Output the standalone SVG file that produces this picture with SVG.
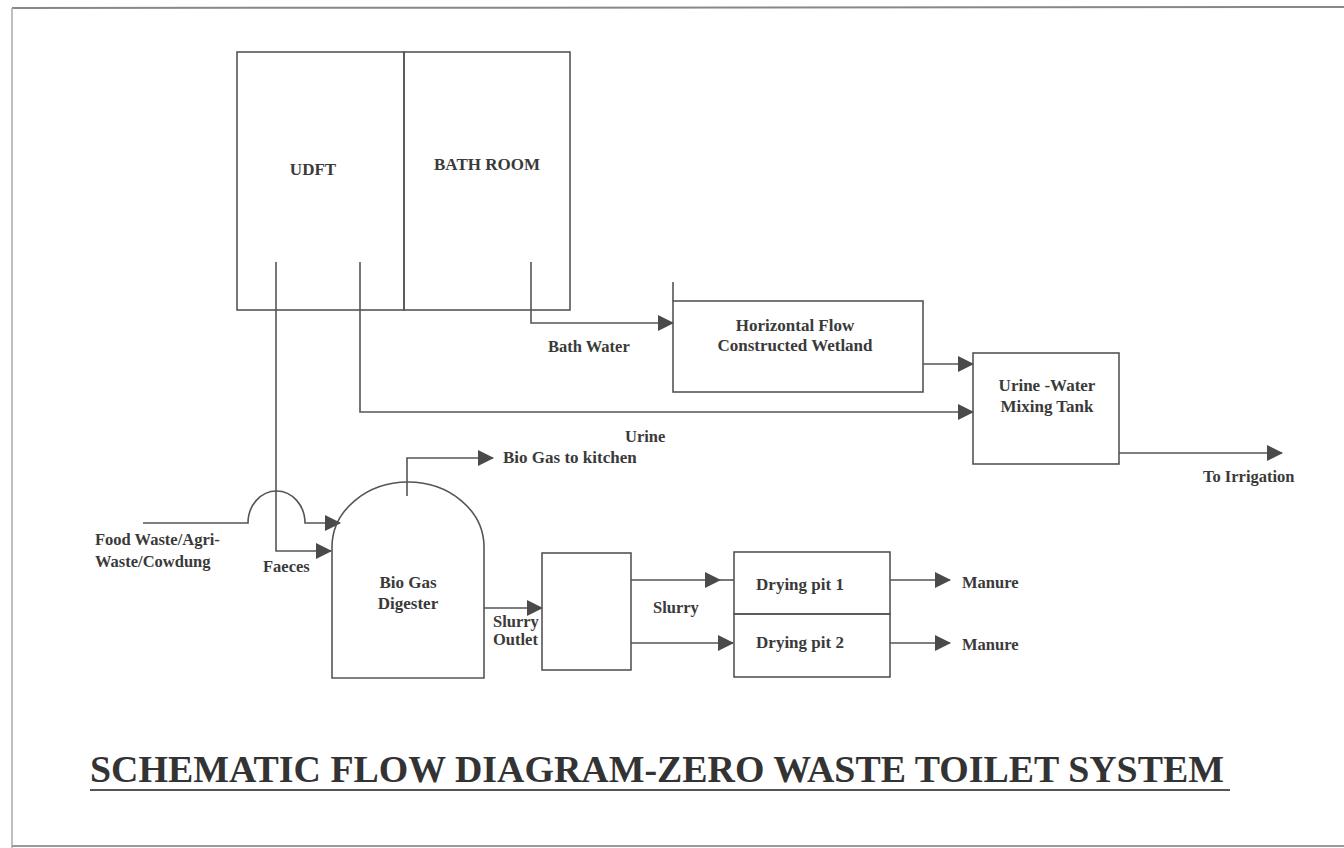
<svg xmlns="http://www.w3.org/2000/svg" width="1344" height="848" viewBox="0 0 1344 848">
<defs>
<marker id="ah" markerUnits="userSpaceOnUse" markerWidth="16" markerHeight="16" refX="15" refY="8" orient="auto">
<path d="M0,0 L16,8 L0,16 z" fill="#4a4a4a"/>
</marker>
<style>
.b{fill:none;stroke:#555;stroke-width:1.6}
.c{fill:none;stroke:#555;stroke-width:1.6}
.a{marker-end:url(#ah)}
text{font-family:"Liberation Serif","Times New Roman",serif;font-weight:bold;font-size:16.5px;fill:#3a3a3a}
.m{text-anchor:middle}
.l{font-size:17px}
.t{font-size:38px;fill:#333}
</style>
</defs>
<rect width="1344" height="848" fill="#fff"/>
<g id="border">
<line x1="12" y1="8" x2="1344" y2="7" stroke="#888" stroke-width="2"/>
<line x1="12" y1="8" x2="12" y2="848" stroke="#aaa" stroke-width="1.5"/>
<line x1="12" y1="846" x2="1344" y2="846" stroke="#999" stroke-width="2"/>
</g>
<g id="connectors">
<path class="c a" d="M531,262 V323 H673"/>
<path class="c a" d="M360,262 V412 H973"/>
<path class="c a" d="M276,262 V551 H331"/>
<path class="c a" d="M143,523 H248 A28.5,32 0 0 1 305,523 H340"/>
<path class="c a" d="M923,364 H973"/>
<path class="c a" d="M1119,453 H1282"/>
<path class="c a" d="M407,496 V458 H493"/>
<path class="c a" d="M484,608 H542"/>
<path class="c a" d="M631,580 H720"/>
<path class="c" d="M718,580 H734"/>
<path class="c a" d="M631,643 H733"/>
<path class="c a" d="M890,580 H950"/>
<path class="c a" d="M890,643 H950"/>
</g>
<g id="udft">
<rect class="b" x="237" y="52" width="167" height="258"/>
<text class="m l" x="313" y="175">UDFT</text>
</g>
<g id="bathroom">
<rect class="b" x="404" y="52" width="166" height="258"/>
<text class="m l" x="487" y="170">BATH ROOM</text>
</g>
<g id="wetland">
<rect class="b" x="673" y="301" width="250" height="91"/>
<line class="b" x1="673" y1="282" x2="673" y2="301"/>
<text class="m l" x="795" y="331">Horizontal Flow</text>
<text class="m l" x="795" y="351">Constructed Wetland</text>
</g>
<g id="mixing">
<rect class="b" x="973" y="353" width="146" height="111"/>
<text class="m l" x="1047" y="391">Urine -Water</text>
<text class="m l" x="1047" y="412">Mixing Tank</text>
</g>
<g id="digester">
<path class="b" d="M332,678 V547 A76,65 0 0 1 484,547 V678 Z"/>
<text class="m l" x="408" y="588">Bio Gas</text>
<text class="m l" x="408" y="609">Digester</text>
</g>
<g id="slurrybox">
<rect class="b" x="542" y="553" width="89" height="117"/>
</g>
<g id="pit1">
<rect class="b" x="734" y="552" width="156" height="62"/>
<text class="m l" x="800" y="590">Drying pit 1</text>
</g>
<g id="pit2">
<rect class="b" x="734" y="614" width="156" height="63"/>
<text class="m l" x="800" y="648">Drying pit 2</text>
</g>
<g id="labels">
<text x="548" y="352">Bath Water</text>
<text x="625" y="442">Urine</text>
<text class="l" x="503" y="463">Bio Gas to kitchen</text>
<text x="1203" y="482">To Irrigation</text>
<text x="95" y="545">Food Waste/Agri-</text>
<text x="95" y="567">Waste/Cowdung</text>
<text x="263" y="572">Faeces</text>
<text x="493" y="627">Slurry</text>
<text x="493" y="645">Outlet</text>
<text x="653" y="613">Slurry</text>
<text x="962" y="588">Manure</text>
<text x="962" y="650">Manure</text>
</g>
<g id="title">
<text class="t" x="90" y="782" textLength="1134" lengthAdjust="spacingAndGlyphs">SCHEMATIC FLOW DIAGRAM-ZERO WASTE TOILET SYSTEM</text>
<line x1="90" y1="790" x2="1230" y2="790" stroke="#555" stroke-width="2"/>
</g>
</svg>
